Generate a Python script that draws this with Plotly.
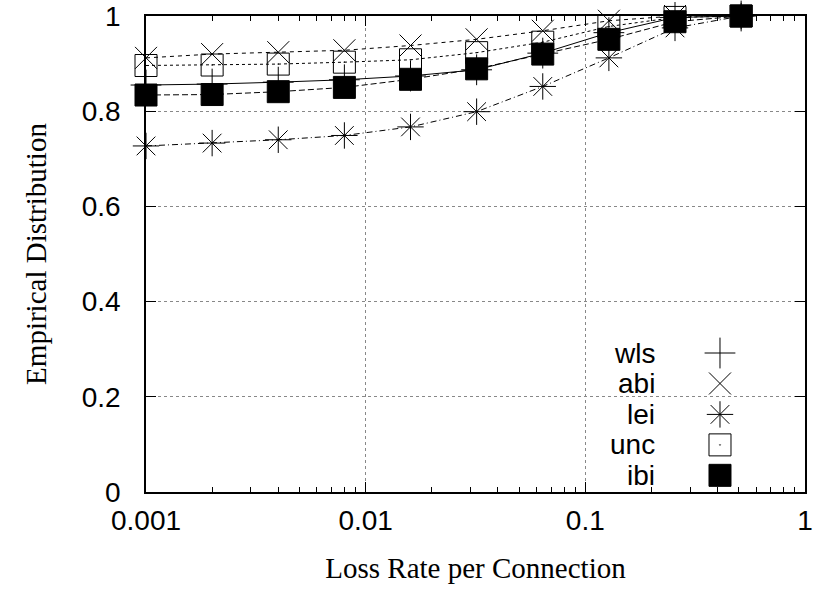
import plotly.graph_objects as go

loss_rate = [0.001, 0.002, 0.004, 0.008, 0.016, 0.032, 0.064, 0.128, 0.256, 0.512]
wls = [0.855, 0.857, 0.861, 0.866, 0.874, 0.887, 0.922, 0.965, 0.997, 1.0]
abi = [0.912, 0.920, 0.924, 0.928, 0.938, 0.951, 0.969, 0.990, 1.0, 1.0]
lei = [0.727, 0.733, 0.740, 0.749, 0.767, 0.799, 0.852, 0.912, 0.975, 1.0]
unc = [0.896, 0.897, 0.899, 0.903, 0.908, 0.923, 0.945, 0.978, 0.997, 1.0]
ibi = [0.834, 0.835, 0.841, 0.850, 0.867, 0.889, 0.920, 0.951, 0.988, 1.0]

series_names = ["wls", "abi", "lei", "unc", "ibi"]
series_vals = [wls, abi, lei, unc, ibi]
symbols = ["cross-thin-open", "x-thin-open", "asterisk-open", "square-open-dot", "square"]
sizes = [22, 22, 22, 22, 22]
dashes = ["solid", "4px,4px", "6px,3px,1px,3px", "3px,3px", "6px,3px"]

x_tickvals = [0.001, 0.01, 0.1, 1]
x_ticktext = ["0.001", "0.01", "0.1", "1"]
y_tickvals = [0, 0.2, 0.4, 0.6, 0.8, 1]
y_ticktext = ["0", "0.2", "0.4", "0.6", "0.8", "1"]

SANS = "Liberation Sans, Arial"
SERIF = "Liberation Serif, Times New Roman"

fig = go.Figure()
for name, vals, sym, sz, dsh in zip(series_names, series_vals, symbols, sizes, dashes):
    fig.add_trace(go.Scatter(
        x=loss_rate, y=vals, name=name, mode="lines+markers",
        line=dict(color="black", width=1, dash=dsh),
        marker=dict(symbol=sym, size=sz, color="black",
                    line=dict(color="black", width=1)),
        cliponaxis=False, showlegend=False,
    ))

# custom legend (text left, symbol right) on an overlay axis
legend_y = [0.292, 0.228, 0.163, 0.099, 0.035]
fig.add_trace(go.Scatter(
    x=[0.871] * 5, y=legend_y, mode="markers", xaxis="x2", yaxis="y2",
    marker=dict(symbol=symbols, size=22, color="black", line=dict(color="black", width=1)),
    showlegend=False, hoverinfo="skip", cliponaxis=False,
))
for name, ly in zip(series_names, legend_y):
    fig.add_annotation(x=0.775, y=ly, xref="x2", yref="y2", text=name, showarrow=False,
                       xanchor="right", yanchor="middle",
                       font=dict(family=SANS, size=28, color="black"))

axis_common = dict(
    showline=True, linecolor="black", linewidth=1.5, mirror="ticks",
    ticks="inside", tickcolor="black", tickwidth=1, ticklen=10,
    showgrid=True, gridcolor="#888888", griddash="dot", gridwidth=1,
    zeroline=False, automargin=False,
    tickfont=dict(family=SANS, size=28, color="black"),
)

fig.update_layout(
    width=816, height=590,
    margin=dict(l=146, r=11, t=16, b=98),
    paper_bgcolor="white", plot_bgcolor="white",
    xaxis=dict(
        type="log", range=[-3, 0], tickvals=x_tickvals, ticktext=x_ticktext,
        minor=dict(ticks="inside", ticklen=5, tickcolor="black", showgrid=False,
                   dtick="D1"),
        title=dict(text="Loss Rate per Connection", standoff=22,
                   font=dict(family=SERIF, size=29, color="black")),
        ticklabelstandoff=3,
        **axis_common,
    ),
    yaxis=dict(
        range=[0, 1], tickvals=y_tickvals, ticktext=y_ticktext,
        title=dict(text="Empirical Distribution", standoff=27,
                   font=dict(family=SERIF, size=29, color="black")),
        ticklabelstandoff=18,
        **axis_common,
    ),
    xaxis2=dict(range=[0, 1], overlaying="x", visible=False),
    yaxis2=dict(range=[0, 1], overlaying="y", visible=False),
)

fig.write_html("out.html", config={"displayModeBar": False},
               post_script="document.body.style.margin='0';")
